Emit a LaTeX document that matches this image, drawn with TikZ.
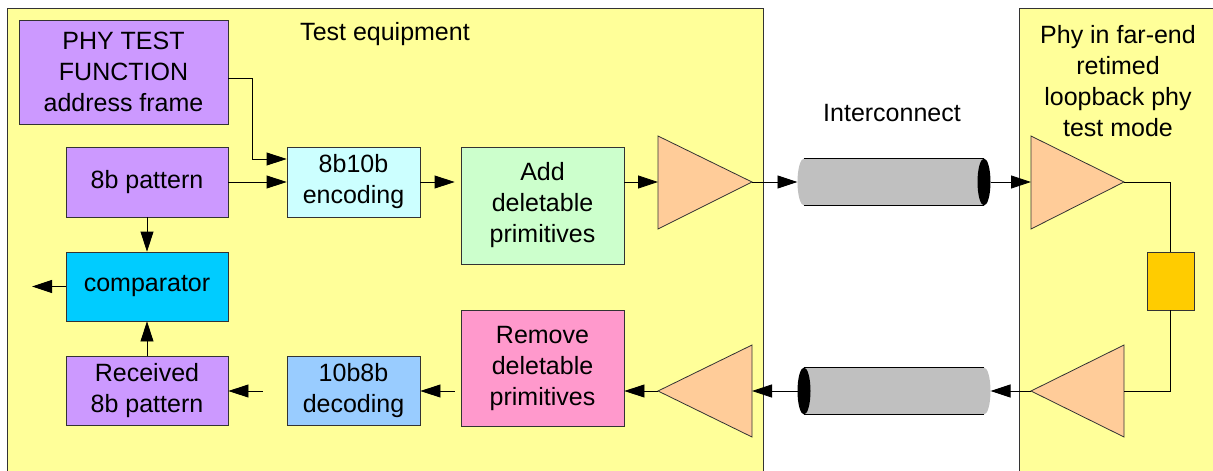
\documentclass[tikz,border=0pt]{standalone}
\usepackage{fontspec}
\setmainfont{Liberation Sans}
\usetikzlibrary{arrows.meta}
\definecolor{panel}{HTML}{FFFF99}
\definecolor{lilac}{HTML}{CC99FF}
\definecolor{paleCyan}{HTML}{CCFFFF}
\definecolor{paleGreen}{HTML}{CCFFCC}
\definecolor{pinkish}{HTML}{FF99CC}
\definecolor{skyBlue}{HTML}{99CCFF}
\definecolor{brightCyan}{HTML}{00CCFF}
\definecolor{amber}{HTML}{FFCC00}
\definecolor{peach}{HTML}{FFCC99}
\definecolor{cylGrey}{HTML}{C0C0C0}
\definecolor{edge}{HTML}{333333}
\tikzset{
  blk/.style={draw=edge, line width=0.8pt, rectangle, align=center, inner sep=0pt,
    font=\fontsize{25}{31}\selectfont},
  conn/.style={line width=0.8pt, -{Triangle[length=20pt,width=13pt]}},
  wire/.style={line width=0.8pt},
  amp/.style={draw=edge, line width=0.8pt, fill=peach},
  lbl/.style={align=center, font=\fontsize{25}{31}\selectfont, inner sep=0pt},
}
\begin{document}
\begin{tikzpicture}[x=1pt,y=-1pt]
\clip (0,0) rectangle (1213,471);
\fill[white] (0,0) rectangle (1213,471);
% panels
\draw[fill=panel, draw=edge, line width=0.8pt] (7,8) rectangle (763,480);
\draw[fill=panel, draw=edge, line width=0.8pt] (1019,8) rectangle (1230,480);
\node[lbl] (te) at (385,34) {Test equipment};
\node[lbl] (ic) at (892,113) {Interconnect};
\node[lbl] (fe) at (1118,81) {Phy in far-end\\retimed\\loopback phy\\test mode};
% blocks
\node[blk, fill=lilac, minimum width=209pt, minimum height=104pt] (ptf) at (123.5,72) {PHY TEST\\FUNCTION\\address frame};
\node[blk, fill=lilac, minimum width=162pt, minimum height=70pt] (pat) at (147,182) {8b pattern};
\node[blk, fill=paleCyan, minimum width=133pt, minimum height=70pt] (enc) at (353.5,182) {8b10b\\encoding};
\node[blk, fill=paleGreen, minimum width=163pt, minimum height=117pt] (add) at (542.5,205.5) {Add\\deletable\\primitives};
\node[blk, fill=pinkish, minimum width=163pt, minimum height=116pt] (rem) at (542.5,368) {Remove\\deletable\\primitives};
\node[blk, fill=skyBlue, minimum width=133pt, minimum height=69pt] (dec) at (353.5,391) {10b8b\\decoding};
\node[blk, fill=lilac, minimum width=162pt, minimum height=69pt] (rcv) at (147,391) {Received\\8b pattern};
\node[blk, fill=brightCyan, minimum width=162pt, minimum height=69pt] (cmp) at (147,286.5) {comparator};
\node[blk, fill=amber, minimum width=47pt, minimum height=58pt] (ret) at (1170.5,281) {};
% amplifiers (triangles)
\draw[amp] (658,136) -- (752,182) -- (658,229) -- cycle;
\coordinate (t1in) at (658,182); \coordinate (t1out) at (752,182);
\draw[amp] (752,345) -- (658,391) -- (752,437) -- cycle;
\coordinate (t2in) at (752,391); \coordinate (t2out) at (658,391);
\draw[amp] (1031,136) -- (1124,182) -- (1031,229) -- cycle;
\coordinate (t3in) at (1031,182); \coordinate (t3out) at (1124,182);
\draw[amp] (1124,345) -- (1031,391) -- (1124,437) -- cycle;
\coordinate (t4in) at (1124,391); \coordinate (t4out) at (1031,391);
% cylinders
\fill[cylGrey] (804,182) ellipse[x radius=6.5pt, y radius=23.5pt];
\fill[cylGrey] (804,158.5) rectangle (984,205.5);
\draw[line width=1.4pt] (804,158.5) -- (984,158.5) (804,205.5) -- (984,205.5);
\fill[black] (984,182) ellipse[x radius=6.5pt, y radius=23.5pt];
\coordinate (c1in) at (797.5,182); \coordinate (c1out) at (990.5,182);
\fill[cylGrey] (984,391) ellipse[x radius=6.5pt, y radius=23.5pt];
\fill[cylGrey] (804,367.5) rectangle (984,414.5);
\draw[line width=1.4pt] (804,367.5) -- (984,367.5) (804,414.5) -- (984,414.5);
\fill[black] (804,391) ellipse[x radius=6.5pt, y radius=23.5pt];
\coordinate (c2in) at (990.5,391); \coordinate (c2out) at (797.5,391);
\coordinate (cmpout) at (32,286.5);
% connectors
\draw[conn] (ptf.east |- 0,78) -| (252,159) -- (enc.west |- 0,159);
\draw[conn] (pat.east) -- (enc.west);
\draw[conn, shorten >=6pt] (enc.east) -- (enc.east -| add.west);
\draw[conn] (add.east |- t1in) -- (t1in);
\draw[conn] (t1out) -- (c1in);
\draw[conn] (c1out) -- (t3in);
\draw[wire] (t3out) -| (ret.north);
\draw[wire] (ret.south) |- (t4in);
\draw[conn] (t4out) -- (c2in);
\draw[conn] (c2out) -- (t2in);
\draw[conn] (t2out) -- (t2out -| rem.east);
\draw[conn, shorten <=6pt] (rem.west |- dec.east) -- (dec.east);
\draw[conn, shorten <=24pt] (dec.west) -- (rcv.east);
\draw[conn] (pat.south) -- (cmp.north);
\draw[conn] (rcv.north) -- (cmp.south);
\draw[conn] (cmp.west) -- (cmpout);
\end{tikzpicture}
\end{document}
